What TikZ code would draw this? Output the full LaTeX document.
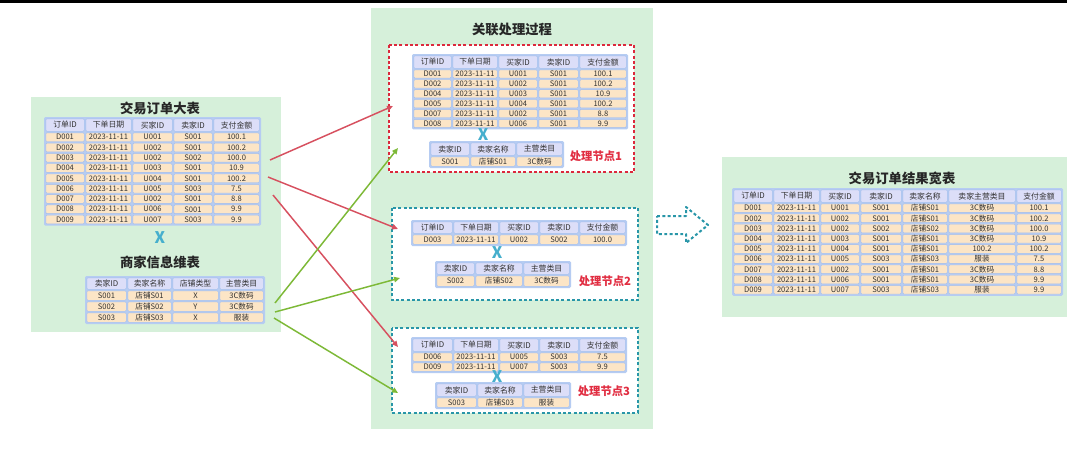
\documentclass[tikz,border=0pt]{standalone}
\usepackage{fontspec}
\usepackage{xcolor}
\usepackage{tikz}
\usetikzlibrary{arrows.meta,calc,positioning}
\newfontfamily\cjk{Noto Sans CJK SC}
\definecolor{panelgreen}{RGB}{214,240,218}
\definecolor{hdrfill}{RGB}{220,222,248}
\definecolor{datafill}{RGB}{252,229,198}
\definecolor{celldraw}{RGB}{160,188,238}
\definecolor{tabback}{RGB}{182,204,242}
\definecolor{cellText}{RGB}{50,50,50}
\definecolor{dashred}{RGB}{220,40,60}
\definecolor{dashteal}{RGB}{40,150,168}
\definecolor{xblue}{RGB}{70,175,205}
\definecolor{arrred}{RGB}{215,80,95}
\definecolor{arrgreen}{RGB}{125,185,55}
\definecolor{labelred}{RGB}{225,45,65}

% #1 name, #2 column bounds, #3 top, #4 header height, #5 row height, #6 rows, #7 header, #8 data
\newcommand{\datatable}[8]{%
    \pgfmathsetmacro\xa{{#2}[0]}
    \pgfmathsetmacro\xb{{#2}[dim({#2})-1]}
    \fill[tabback, rounded corners=1pt] (\xa-1,#3-1) rectangle (\xb+1,{#3+#4+#6*#5+1});
    \foreach \c [count=\i from 0] in {#7} {
        \pgfmathsetmacro\xl{{#2}[\i]}
        \pgfmathsetmacro\xr{{#2}[\i+1]}
        \pgfmathsetmacro\w{(\xr-\xl-1.6)*0.75}
        \pgfmathsetmacro\h{(#4-1.6)*0.75}
        \node[hcell, minimum width=\w pt, minimum height=\h pt] (#1-h\i) at ({(\xl+\xr)/2},{#3+#4/2}) {\c};
    }
    \foreach \r [count=\k] in {#8} {
        \foreach \c [count=\i from 0] in \r {
            \pgfmathsetmacro\xl{{#2}[\i]}
            \pgfmathsetmacro\xr{{#2}[\i+1]}
            \pgfmathsetmacro\w{(\xr-\xl-1.6)*0.75}
            \pgfmathsetmacro\h{(#5-1.6)*0.75}
            \node[dcell, minimum width=\w pt, minimum height=\h pt] (#1-\k-\i) at ({(\xl+\xr)/2},{#3+#4+(\k-0.5)*#5}) {\c};
        }
    }
}

\begin{document}
\begin{tikzpicture}[
        x=0.75pt, y=-0.75pt,
        every node/.style={font=\cjk},
        panel/.style={fill=panelgreen},
        hcell/.style={rectangle, rounded corners=0.8pt, fill=hdrfill, draw=celldraw, line width=0.3pt, inner sep=0pt, text=cellText, font=\cjk\fontsize{5.9}{6}\selectfont},
        dcell/.style={rectangle, rounded corners=0.8pt, fill=datafill, draw=celldraw, line width=0.3pt, inner sep=0pt, text=cellText, font=\cjk\fontsize{5.7}{6}\selectfont},
        title/.style={font=\cjk\bfseries\fontsize{10}{10}\selectfont, text=black!85},
        cross/.style={font=\cjk\bfseries\fontsize{12}{12}\selectfont, text=xblue},
        nodebox/.style={fill=white, line width=1.5pt, dash pattern=on 2.2pt off 1.8pt},
        nodelabel/.style={font=\cjk\bfseries\fontsize{8.5}{9}\selectfont, text=labelred},
        redarrow/.style={-{Triangle[length=4.5pt,width=4pt]}, line width=1.1pt, arrred},
        greenarrow/.style={-{Triangle[length=4.5pt,width=4pt]}, line width=1.1pt, arrgreen}
    ]
    \useasboundingbox (0,0) rectangle (1067,450);
    \fill[white] (0,0) rectangle (1067,450);
    \fill[black] (0,0) rectangle (1067,3);

    % panels
    \fill[panel] (31,97) rectangle (281,332);
    \fill[panel] (371,8) rectangle (653,429);
    \fill[panel] (722,157) rectangle (1067,317);

    % source tables
    \node[title] (ordertitle) at (160,108) {交易订单大表};
    \datatable{ord}{45,85,132,173,213,260}{118}{14}{10.3}{9}
        {订单ID,下单日期,买家ID,卖家ID,支付金额}
        {{D001,2023-11-11,U001,S001,100.1},
         {D002,2023-11-11,U002,S001,100.2},
         {D003,2023-11-11,U002,S002,100.0},
         {D004,2023-11-11,U003,S001,10.9},
         {D005,2023-11-11,U004,S001,100.2},
         {D006,2023-11-11,U005,S003,7.5},
         {D007,2023-11-11,U002,S001,8.8},
         {D008,2023-11-11,U006,S001,9.9},
         {D009,2023-11-11,U007,S003,9.9}}
    \node[cross] (x0) at (160,238) {X};
    \node[title] (sellertitle) at (160,262) {商家信息维表};
    \datatable{sel}{86,127,172,219,264}{277}{13}{11}{3}
        {卖家ID,卖家名称,店铺类型,主营类目}
        {{S001,店铺S01,X,3C数码},
         {S002,店铺S02,Y,3C数码},
         {S003,店铺S03,X,服装}}

    % join process
    \node[title] (jointitle) at (512,30) {关联处理过程};
    \draw[nodebox, draw=dashred] (389,45) rectangle (634,172);
    \draw[nodebox, draw=dashteal] (392,208) rectangle (638,300);
    \draw[nodebox, draw=dashteal] (392,328) rectangle (638,413);

    \datatable{na}{413,452,498,538,579,627}{55}{14}{9.9}{6}
        {订单ID,下单日期,买家ID,卖家ID,支付金额}
        {{D001,2023-11-11,U001,S001,100.1},
         {D002,2023-11-11,U002,S001,100.2},
         {D004,2023-11-11,U003,S001,10.9},
         {D005,2023-11-11,U004,S001,100.2},
         {D007,2023-11-11,U002,S001,8.8},
         {D008,2023-11-11,U006,S001,9.9}}
    \node[cross] (x1) at (483,135) {X};
    \datatable{nb}{430,470,516,563}{142}{14}{11}{1}
        {卖家ID,卖家名称,主营类目}
        {{S001,店铺S01,3C数码}}
    \node[nodelabel] (lab1) at (596,156) {处理节点1};

    \datatable{nc}{412,453,499,539,579,626}{221}{13}{11}{1}
        {订单ID,下单日期,买家ID,卖家ID,支付金额}
        {{D003,2023-11-11,U002,S002,100.0}}
    \node[cross] (x2) at (497,253) {X};
    \datatable{nd}{436,475,523,570}{262}{13}{12}{1}
        {卖家ID,卖家名称,主营类目}
        {{S002,店铺S02,3C数码}}
    \node[nodelabel] (lab2) at (605,281) {处理节点2};

    \datatable{ne}{412,453,499,539,579,626}{338}{14}{10}{2}
        {订单ID,下单日期,买家ID,卖家ID,支付金额}
        {{D006,2023-11-11,U005,S003,7.5},
         {D009,2023-11-11,U007,S003,9.9}}
    \node[cross] (x3) at (497,377) {X};
    \datatable{nf}{436,477,523,570}{383}{14}{11}{1}
        {卖家ID,卖家名称,主营类目}
        {{S003,店铺S03,服装}}
    \node[nodelabel] (lab3) at (604,391) {处理节点3};

    % result
    \draw[dashteal, line width=1.5pt, dash pattern=on 2.2pt off 1.8pt, line join=round]
        (657,216) -- (686,216) -- (686,207) -- (708,225) -- (686,243) -- (686,234) -- (657,234) -- cycle;
    \node[title] (resulttitle) at (902,178) {交易订单结果宽表};
    \datatable{res}{733,773,820,860,902,948,1016,1062}{189}{14}{10.2}{9}
        {订单ID,下单日期,买家ID,卖家ID,卖家名称,卖家主营类目,支付金额}
        {{D001,2023-11-11,U001,S001,店铺S01,3C数码,100.1},
         {D002,2023-11-11,U002,S001,店铺S01,3C数码,100.2},
         {D003,2023-11-11,U002,S002,店铺S02,3C数码,100.0},
         {D004,2023-11-11,U003,S001,店铺S01,3C数码,10.9},
         {D005,2023-11-11,U004,S001,店铺S01,100.2,100.2},
         {D006,2023-11-11,U005,S003,店铺S03,服装,7.5},
         {D007,2023-11-11,U002,S001,店铺S01,3C数码,8.8},
         {D008,2023-11-11,U006,S001,店铺S01,3C数码,9.9},
         {D009,2023-11-11,U007,S003,店铺S03,服装,9.9}}

    % distribution arrows
    \coordinate (rs1) at (270,160);
    \coordinate (rs2) at (268,177);
    \coordinate (rs3) at (273,195);
    \coordinate (gs1) at (275,303);
    \coordinate (gs2) at (275,312);
    \coordinate (gs3) at (274,318);
    \coordinate (re1) at (393,106);
    \coordinate (re2) at (398,229);
    \coordinate (re3) at (398,347);
    \coordinate (ge1) at (398,148);
    \coordinate (ge2) at (400,278);
    \coordinate (ge3) at (398,393);
    \draw[redarrow] (rs1) -- (re1);
    \draw[redarrow] (rs2) -- (re2);
    \draw[redarrow] (rs3) -- (re3);
    \draw[greenarrow] (gs1) -- (ge1);
    \draw[greenarrow] (gs2) -- (ge2);
    \draw[greenarrow] (gs3) -- (ge3);
\end{tikzpicture}
\end{document}
